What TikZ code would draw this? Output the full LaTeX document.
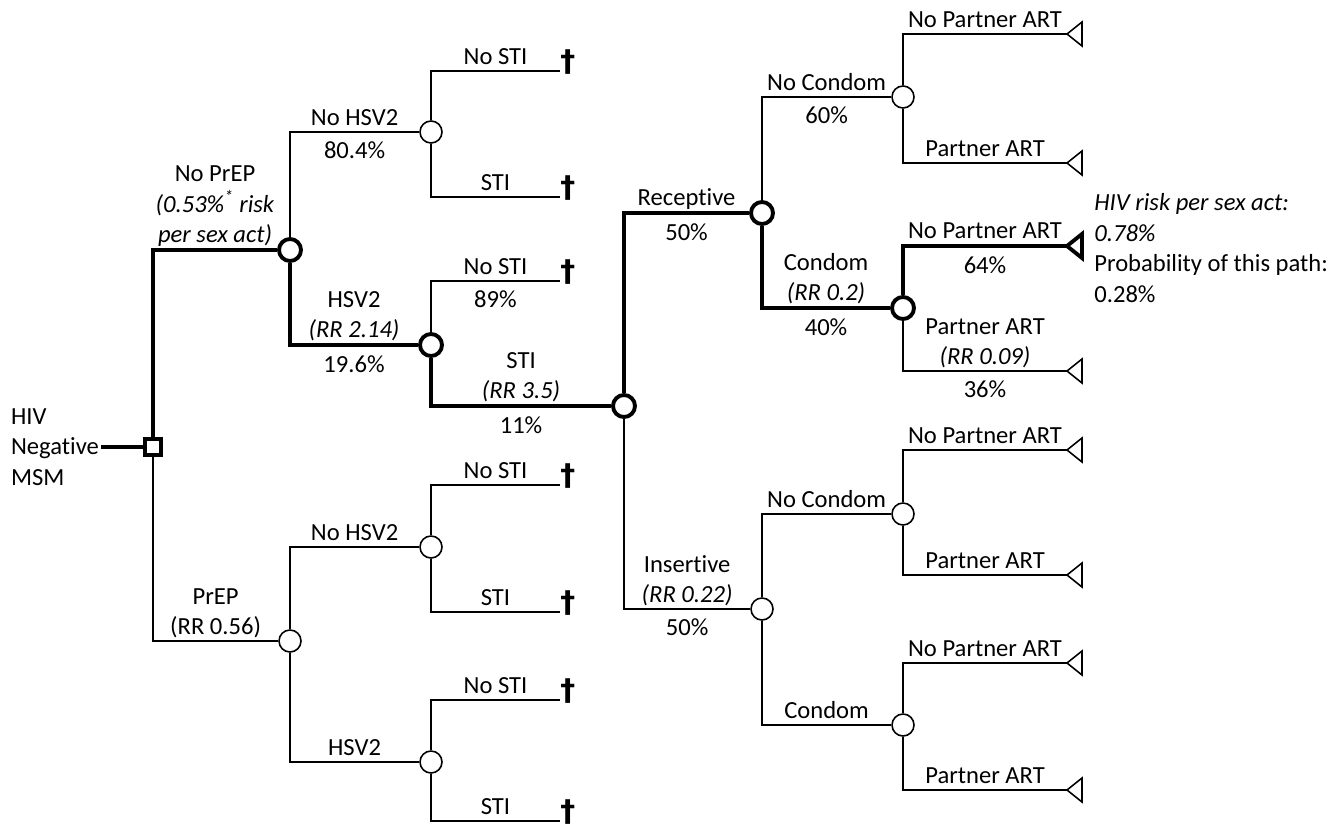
\documentclass[tikz,border=0pt]{standalone}
\usepackage{fontspec}
\setmainfont{Carlito}[Ligatures=NoCommon]
\newfontfamily\dagfont{DejaVu Sans}
\usetikzlibrary{positioning}
\begin{document}
\begin{tikzpicture}[x=0.02cm, y=-0.02cm,
  every node/.style={font=\fontsize{14}{17.5}\selectfont},
  chance/.style={circle, draw, line width=0.9pt, fill=white, minimum size=0.44cm, inner sep=0pt},
  decision/.style={rectangle, draw, line width=2.4pt, fill=white, minimum size=0.32cm, inner sep=0pt},
  br/.style={line width=0.9pt},
  hot/.style={line width=2.2pt},
  lbl/.style={pos=0.75, above, inner sep=1pt, text depth=0.2em, align=center},
  pct/.style={pos=0.75, below, inner sep=1pt, yshift=-4pt},
  dag/.style={anchor=west, inner sep=0pt, text height=0.75em, text depth=0.65em,
    font=\fontsize{17}{20}\dagfont\bfseries}]
 \useasboundingbox (0,0) rectangle (1341,828);
 \fill[white] (0,0) rectangle (1341,828);

 \node[anchor=east, align=left, inner sep=1pt] (msm) at (101,447) {HIV\\Negative\\MSM};
 \node[decision] (root) at (153,447) {};

 \node[chance, hot] (noprep) at (290,250) {};
 \node[chance] (prep) at (290,641) {};
 \node[chance] (nohsv) at (431,132) {};
 \node[chance, hot] (hsv) at (431,345) {};
 \node[chance] (nohsvb) at (431,547) {};
 \node[chance] (hsvb) at (431,762) {};
 \node[chance, hot] (sti) at (624,406) {};
 \node[chance, hot] (rec) at (762,213) {};
 \node[chance] (ins) at (762,609) {};
 \node[chance] (nocon) at (903,97) {};
 \node[chance, hot] (con) at (903,308) {};
 \node[chance] (noconb) at (903,514) {};
 \node[chance] (conb) at (903,725) {};

 \foreach \n/\y in {s1/71, s2/197, s3/281, s5/485, s6/612, s7/700, s8/821}
  \node[dag] (\n) at (560,\y) {\textdagger};
 \foreach \n/\y in {t1/34, t2/163, t3/246, t4/371, t5/450, t6/575, t7/663, t8/790} {
  \coordinate (\n) at (1067,\y);
  \draw[br] (\n) -- ++(15,-12) -- ++(0,24) -- cycle;
 }
 \draw[hot] (t3) -- ++(15,-12) -- ++(0,24) -- cycle;

 \draw[hot] (msm) -- (root);
 \draw[hot] (root) |- node[lbl] {No PrEP\\\textit{(0.53\%\textsuperscript{*} risk}\\\textit{per sex act)}} (noprep);
 \draw[br] (root) |- node[lbl] {PrEP\\(RR 0.56)} (prep);

 \draw[br] (noprep) |- node[lbl] {No HSV2} node[pct] {80.4\%} (nohsv);
 \draw[hot] (noprep) |- node[lbl] {HSV2\\\textit{(RR 2.14)}} node[pct] {19.6\%} (hsv);
 \draw[br] (nohsv) |- node[lbl] {No STI} (s1);
 \draw[br] (nohsv) |- node[lbl] {STI} (s2);
 \draw[br] (hsv) |- node[lbl] {No STI} node[pct] {89\%} (s3);
 \draw[hot] (hsv) |- node[lbl] {STI\\\textit{(RR 3.5)}} node[pct] {11\%} (sti);

 \draw[br] (prep) |- node[lbl] {No HSV2} (nohsvb);
 \draw[br] (prep) |- node[lbl] {HSV2} (hsvb);
 \draw[br] (nohsvb) |- node[lbl] {No STI} (s5);
 \draw[br] (nohsvb) |- node[lbl] {STI} (s6);
 \draw[br] (hsvb) |- node[lbl] {No STI} (s7);
 \draw[br] (hsvb) |- node[lbl] {STI} (s8);

 \draw[hot] (sti) |- node[lbl] {Receptive} node[pct] {50\%} (rec);
 \draw[br] (sti) |- node[lbl] {Insertive\\\textit{(RR 0.22)}} node[pct] {50\%} (ins);
 \draw[br] (rec) |- node[lbl] {No Condom} node[pct] {60\%} (nocon);
 \draw[hot] (rec) |- node[lbl] {Condom\\\textit{(RR 0.2)}} node[pct] {40\%} (con);
 \draw[br] (ins) |- node[lbl] {No Condom} (noconb);
 \draw[br] (ins) |- node[lbl] {Condom} (conb);

 \draw[br] (nocon) |- node[lbl] {No Partner ART} (t1);
 \draw[br] (nocon) |- node[lbl] {Partner ART} (t2);
 \draw[hot] (con) |- node[lbl] {No Partner ART} node[pct] {64\%} (t3);
 \draw[br] (con) |- node[lbl] {Partner ART\\\textit{(RR 0.09)}} node[pct] {36\%} (t4);
 \draw[br] (noconb) |- node[lbl] {No Partner ART} (t5);
 \draw[br] (noconb) |- node[lbl] {Partner ART} (t6);
 \draw[br] (conb) |- node[lbl] {No Partner ART} (t7);
 \draw[br] (conb) |- node[lbl] {Partner ART} (t8);

 \node[anchor=north west, align=left, inner sep=0pt] (info) at (1094,193)
  {\textit{HIV risk per sex act:}\\\textit{0.78\%}\\Probability of this path:\\0.28\%};
\end{tikzpicture}
\end{document}
